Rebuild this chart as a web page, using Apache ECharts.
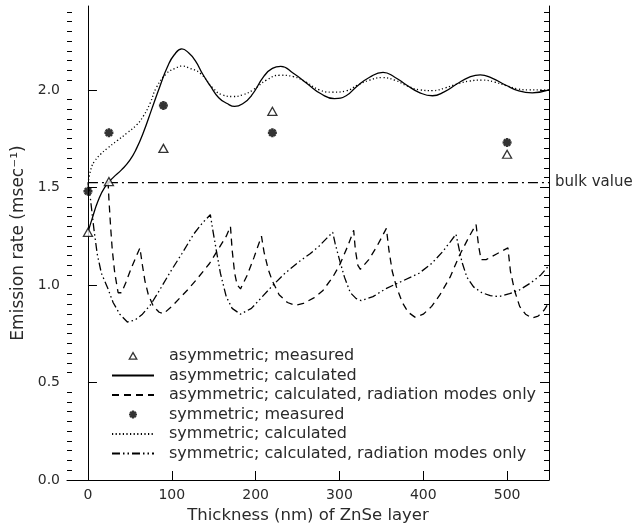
<!DOCTYPE html>
<html>
<head>
<meta charset="utf-8">
<script src="https://cdn.jsdelivr.net/npm/echarts@6/dist/echarts.min.js"></script>
<style>
  html, body { margin: 0; padding: 0; background: #fff; }
  #chart { width: 633px; height: 529px; }
</style>
</head>
<body>
<div id="chart"></div>
<script>
// Axis tick positions
const xTicks = [0, 100, 200, 300, 400, 500];
const yTicks = [0, 0.5, 1.0, 1.5, 2.0];
const yMinorTicks = [0.05, 0.1, 0.15, 0.2, 0.25, 0.3, 0.35, 0.4, 0.45,
  0.55, 0.6, 0.65, 0.7, 0.75, 0.8, 0.85, 0.9, 0.95,
  1.05, 1.1, 1.15, 1.2, 1.25, 1.3, 1.35, 1.4, 1.45,
  1.55, 1.6, 1.65, 1.7, 1.75, 1.8, 1.85, 1.9, 1.95,
  2.05, 2.1, 2.15, 2.2, 2.25, 2.3, 2.35, 2.4];

// Measured emission rates [thickness nm, rate msec^-1]
const asymMeasured = [[0, 1.27], [25, 1.53], [90, 1.70], [220, 1.89], [500, 1.67]];
const symMeasured = [[0, 1.48], [25, 1.78], [90, 1.92], [220, 1.78], [500, 1.73]];

// Calculated total emission rate, asymmetric structure
const asymCalc = [[0, 1.27], [5, 1.34], [12, 1.43], [20, 1.50], [30, 1.55], [40, 1.59],
  [50, 1.64], [58, 1.70], [66, 1.78], [76, 1.90], [86, 2.02], [95, 2.12], [103, 2.18],
  [112, 2.21], [120, 2.19], [128, 2.15], [137, 2.08], [146, 2.02], [156, 1.96], [166, 1.93],
  [175, 1.915], [185, 1.93], [195, 1.97], [210, 2.07], [220, 2.11], [230, 2.12], [245, 2.085],
  [262, 2.03], [278, 1.98], [294, 1.955], [308, 1.97], [320, 2.015], [336, 2.065], [352, 2.09],
  [366, 2.065], [380, 2.025], [396, 1.985], [411, 1.97], [425, 1.99], [440, 2.03], [455, 2.065],
  [468, 2.077], [482, 2.06], [498, 2.025], [514, 1.995], [530, 1.985], [550, 2.0]];

// Calculated radiation-mode emission rate, asymmetric structure
const asymRadiation = [[24, 1.53], [25, 1.44], [27, 1.30], [29, 1.18], [32, 1.06], [36, 0.96],
  [40, 0.96], [45, 1.01], [52, 1.09], [58, 1.15], [62, 1.19], [65, 1.10], [68, 1.02], [72, 0.95],
  [78, 0.89], [85, 0.86], [90, 0.852], [100, 0.89], [110, 0.935], [120, 0.98], [130, 1.03],
  [145, 1.11], [155, 1.18], [165, 1.25], [170, 1.30], [172, 1.18], [175, 1.06], [178, 1.00],
  [182, 0.98], [190, 1.05], [198, 1.14], [207, 1.25], [210, 1.17], [215, 1.08], [220, 1.02],
  [228, 0.95], [238, 0.91], [247, 0.895], [257, 0.905], [270, 0.935], [280, 0.97], [292, 1.04],
  [300, 1.10], [310, 1.20], [317, 1.28], [319, 1.18], [322, 1.10], [325, 1.08], [335, 1.13],
  [345, 1.20], [356, 1.29], [359, 1.18], [363, 1.07], [368, 0.99], [375, 0.91], [382, 0.86],
  [390, 0.835], [400, 0.85], [410, 0.89], [420, 0.95], [432, 1.04], [443, 1.15], [455, 1.25],
  [463, 1.31], [466, 1.20], [469, 1.13], [475, 1.13], [488, 1.16], [501, 1.19], [504, 1.07],
  [509, 0.97], [515, 0.89], [522, 0.85], [530, 0.83], [537, 0.84], [544, 0.87], [550, 0.91]];

// Calculated total emission rate, symmetric structure
const symCalc = [[0, 1.52], [4, 1.60], [8, 1.635], [15, 1.67], [23, 1.70], [35, 1.74],
  [47, 1.78], [58, 1.82], [66, 1.865], [74, 1.93], [82, 2.015], [94, 2.085], [104, 2.11],
  [112, 2.122], [122, 2.11], [134, 2.085], [149, 2.01], [160, 1.975], [173, 1.966], [185, 1.975],
  [197, 2.0], [213, 2.05], [229, 2.075], [245, 2.068], [260, 2.04], [276, 2.0], [292, 1.988],
  [308, 1.995], [322, 2.025], [336, 2.05], [351, 2.063], [366, 2.05], [381, 2.02], [396, 2.0],
  [411, 1.996], [426, 2.01], [440, 2.03], [455, 2.045], [470, 2.05], [485, 2.04], [500, 2.02],
  [513, 2.005], [526, 2.0], [540, 2.0], [550, 2.0]];

// Calculated radiation-mode emission rate, symmetric structure
const symRadiation = [[0, 1.52], [3, 1.44], [7, 1.29], [11, 1.16], [16, 1.06], [23, 0.99],
  [30, 0.91], [38, 0.85], [47, 0.81], [56, 0.82], [65, 0.85], [75, 0.90], [85, 0.97],
  [98, 1.065], [112, 1.16], [126, 1.26], [137, 1.32], [146, 1.36], [149, 1.28], [153, 1.18],
  [158, 1.06], [165, 0.94], [172, 0.88], [182, 0.85], [195, 0.88], [208, 0.94], [221, 1.00],
  [235, 1.06], [252, 1.12], [265, 1.16], [276, 1.20], [285, 1.24], [292, 1.27], [295, 1.21],
  [300, 1.13], [306, 1.04], [313, 0.96], [320, 0.93], [326, 0.92], [340, 0.94], [355, 0.98],
  [375, 1.02], [395, 1.06], [410, 1.11], [423, 1.17], [432, 1.22], [439, 1.26], [442, 1.20],
  [446, 1.12], [452, 1.04], [460, 0.99], [470, 0.96], [480, 0.945], [490, 0.94], [503, 0.955],
  [515, 0.975], [528, 1.01], [540, 1.05], [550, 1.10]];

// Bulk emission rate reference level
const bulkValue = 1.525;
const bulkLabel = 'bulk value';

const X_MIN = -25, X_MAX = 550, Y_MIN = 0, Y_MAX = 2.43;
const ink = '#000';
const font = 'DejaVu Sans';
const textColor = '#2a2a2a';

// Bold asterisk marker
const starPath = 'path://M-1.4,-5L1.4,-5L1.4,5L-1.4,5Z M-5,-1.4L5,-1.4L5,1.4L-5,1.4Z ' +
  'M-4.5,-2.5L-2.5,-4.5L4.5,2.5L2.5,4.5Z M-4.5,2.5L2.5,-4.5L4.5,-2.5L-2.5,4.5Z';
// Legend triangle: empty corner points keep the icon box at 42x8 so the triangle is not stretched
const legendTrianglePath = 'path://M-21,-4L-21,-4M21,4L21,4M-3.8,3.2L0,-3.4L3.8,3.2Z';

function curve(name, data, dash, smooth) {
  return {
    name, type: 'line', data, symbol: 'none', smooth, animation: false,
    lineStyle: { color: ink, width: 1.3, type: dash },
    itemStyle: { color: ink }, z: 3
  };
}

function yAxisDef(position, ticks, tickLen, withLine, withLabels) {
  return {
    type: 'value', min: Y_MIN, max: Y_MAX, position,
    axisLine: { show: withLine, lineStyle: { color: ink, width: 1 } },
    axisTick: { show: true, inside: true, length: tickLen, customValues: ticks,
      lineStyle: { color: ink, width: 1 } },
    axisLabel: withLabels
      ? { show: true, customValues: ticks, formatter: v => v.toFixed(1), margin: 7,
          fontFamily: font, fontSize: 14, color: textColor }
      : { show: false },
    splitLine: { show: false }
  };
}

const leftMajor = yAxisDef('left', yTicks, 9, true, true);
leftMajor.name = 'Emission rate (msec\u207B\u00B9)';
leftMajor.nameLocation = 'middle';
leftMajor.nameGap = 26;
leftMajor.nameTextStyle = { fontFamily: font, fontSize: 17, color: textColor };

const bulkSeries = curve('bulk', [[0, bulkValue], [X_MAX, bulkValue]], [10, 4, 2, 4], false);
bulkSeries.endLabel = { show: true, formatter: bulkLabel, distance: 6,
  fontFamily: font, fontSize: 15, color: textColor };

// Legend entries: line samples carry no marker
const hiddenMarker = { opacity: 0 };
const triangleStyle = { color: '#fff', borderColor: ink, borderWidth: 1.3 };
const legendNames = [
  'asymmetric; measured',
  'asymmetric; calculated',
  'asymmetric; calculated, radiation modes only',
  'symmetric; measured',
  'symmetric; calculated',
  'symmetric; calculated, radiation modes only'
];

const option = {
  animation: false,
  backgroundColor: '#fff',
  grid: { left: 67, right: 84, top: 6, bottom: 47 },
  xAxis: {
    type: 'value', min: X_MIN, max: X_MAX,
    axisLine: { show: true, onZero: false, lineStyle: { color: ink, width: 1 } },
    axisTick: { show: true, inside: true, length: 9, customValues: xTicks,
      lineStyle: { color: ink, width: 1 } },
    axisLabel: { customValues: xTicks, margin: 8, fontFamily: font, fontSize: 14, color: textColor },
    splitLine: { show: false },
    name: 'Thickness (nm) of ZnSe layer', nameLocation: 'middle', nameGap: 27,
    nameTextStyle: { fontFamily: font, fontSize: 16.5, color: textColor }
  },
  yAxis: [
    leftMajor,
    yAxisDef('left', yMinorTicks, 5, false, false),
    yAxisDef('right', yTicks, 9, true, false),
    yAxisDef('right', yMinorTicks, 5, false, false)
  ],
  legend: {
    orient: 'vertical', left: 106, top: 343,
    itemWidth: 42, itemHeight: 8, itemGap: 3.5,
    selectedMode: false, symbolKeepAspect: true,
    textStyle: { fontFamily: font, fontSize: 16, color: textColor, padding: [0, 0, 0, 10] },
    data: [
      { name: legendNames[0], icon: legendTrianglePath, itemStyle: triangleStyle },
      { name: legendNames[1], itemStyle: hiddenMarker },
      { name: legendNames[2], itemStyle: hiddenMarker },
      { name: legendNames[3], icon: starPath },
      { name: legendNames[4], itemStyle: hiddenMarker },
      { name: legendNames[5], itemStyle: hiddenMarker }
    ]
  },
  series: [
    bulkSeries,
    {
      name: legendNames[0], type: 'scatter', data: asymMeasured,
      symbol: 'triangle', symbolSize: [9, 8],
      itemStyle: triangleStyle, z: 5
    },
    curve(legendNames[1], asymCalc, 'solid', true),
    curve(legendNames[2], asymRadiation, [7, 5], false),
    {
      name: legendNames[3], type: 'scatter', data: symMeasured,
      symbol: starPath, symbolSize: 9,
      itemStyle: { color: ink }, z: 5
    },
    curve(legendNames[4], symCalc, [1.2, 2.4], true),
    curve(legendNames[5], symRadiation, [8, 3, 1.5, 3, 1.5, 3], false)
  ]
};

const chart = echarts.init(document.getElementById('chart'), null, { renderer: 'canvas' });
chart.setOption(option);
</script>
</body>
</html>
